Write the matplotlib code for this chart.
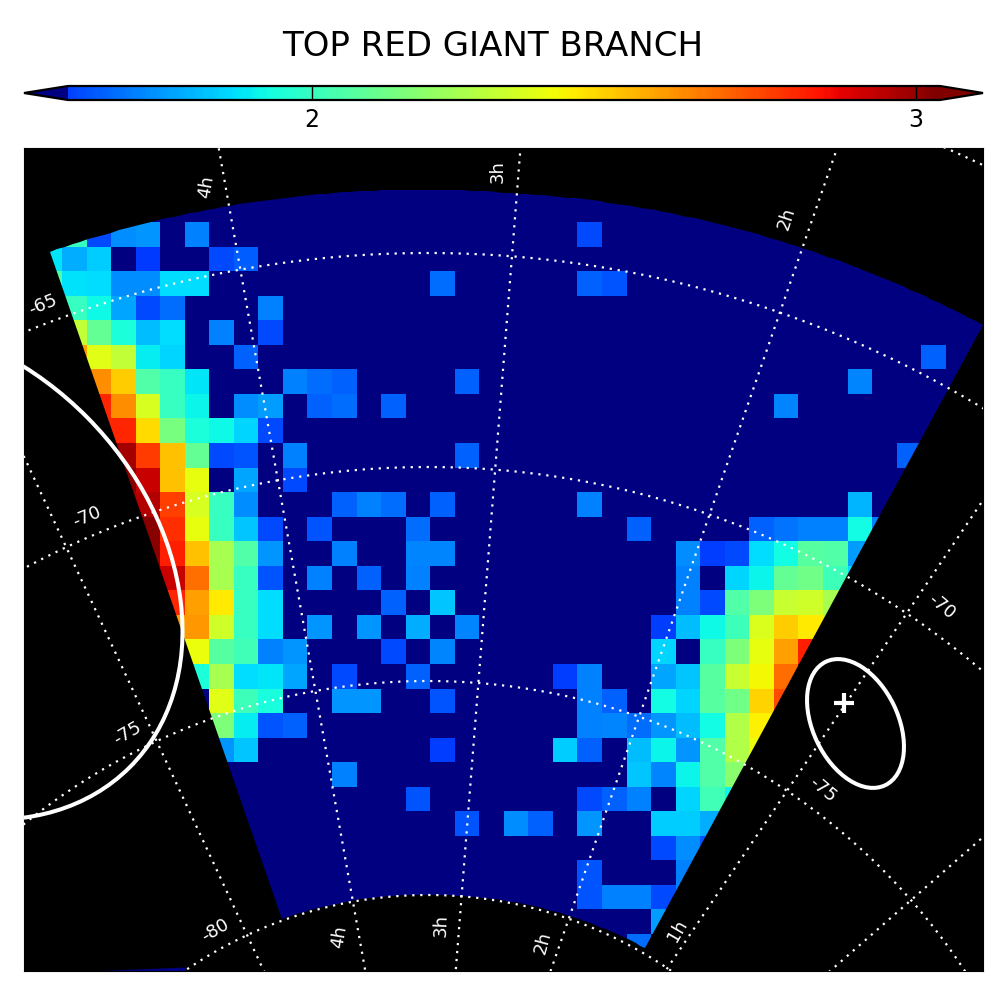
import numpy as np
import matplotlib
matplotlib.use("Agg")
from matplotlib import pyplot as plt
from matplotlib.cm import ScalarMappable
from matplotlib.colors import ListedColormap, Normalize
from matplotlib.patches import Ellipse, Polygon

# log10 star density per cell, one pair of lists per map row (top to bottom)
r00_cols = [1, 2, 3, 4, 6, 22]
r00_vals = [2.05, 1.68, 1.79, 1.80, 1.77, 1.68]
r01_cols = [0, 1, 2, 4, 7, 8]
r01_vals = [1.94, 1.85, 1.90, 1.65, 1.68, 1.71]
r02_cols = [0, 1, 2, 3, 4, 5, 6, 16, 22, 23]
r02_vals = [2.10, 1.93, 1.92, 1.79, 1.79, 1.92, 1.92, 1.74, 1.72, 1.70]
r03_cols = [1, 2, 3, 4, 5, 9]
r03_vals = [2.05, 1.97, 1.83, 1.68, 1.74, 1.77]
r04_cols = [1, 2, 3, 4, 5, 7, 9]
r04_vals = [2.33, 2.14, 2.00, 1.87, 1.92, 1.77, 1.68]
r05_cols = [1, 2, 3, 4, 5, 8, 36]
r05_vals = [2.60, 2.40, 2.33, 1.95, 1.91, 1.72, 1.72]
r06_cols = [2, 3, 4, 5, 6, 10, 11, 12, 17, 33]
r06_vals = [2.63, 2.52, 2.10, 2.05, 1.94, 1.77, 1.74, 1.72, 1.72, 1.78]
r07_cols = [2, 3, 4, 5, 6, 8, 9, 11, 12, 14, 30]
r07_vals = [2.82, 2.63, 2.38, 2.05, 1.96, 1.79, 1.82, 1.72, 1.74, 1.72, 1.78]
r08_cols = [2, 3, 4, 5, 6, 7, 8, 9]
r08_vals = [2.82, 2.82, 2.49, 2.18, 2.00, 1.97, 1.91, 1.68]
r09_cols = [3, 4, 5, 6, 7, 8, 10, 17, 35]
r09_vals = [2.98, 2.78, 2.54, 2.14, 1.68, 1.70, 1.77, 1.72, 1.72]
r10_cols = [3, 4, 5, 6, 8, 10]
r10_vals = [3.02, 2.93, 2.54, 2.41, 1.83, 1.68]
r11_cols = [3, 4, 5, 6, 7, 8, 12, 13, 14, 16, 22, 33]
r11_vals = [2.98, 2.96, 2.77, 2.38, 2.05, 1.79, 1.72, 1.77, 1.74, 1.72, 1.77, 1.86]
r12_cols = [4, 5, 6, 7, 8, 9, 11, 15, 24, 29, 30, 31, 32, 33, 34]
r12_vals = [3.02, 2.80, 2.41, 2.05, 1.88, 1.68, 1.70, 1.74, 1.72, 1.72, 1.75, 1.77, 1.77, 1.98, 1.77]
r13_cols = [4, 5, 6, 7, 8, 9, 12, 15, 16, 26, 27, 28, 29, 30, 31, 32, 33]
r13_vals = [3.02, 2.83, 2.54, 2.28, 2.10, 1.80, 1.77, 1.78, 1.78, 1.79, 1.66, 1.68, 1.92, 1.98, 2.12, 2.10, 1.82]
r14_cols = [4, 5, 6, 7, 8, 9, 11, 13, 15, 26, 28, 29, 30, 31, 32, 33]
r14_vals = [2.93, 2.93, 2.68, 2.28, 2.05, 1.70, 1.77, 1.72, 1.77, 1.77, 1.91, 1.96, 2.14, 2.17, 2.06, 1.92]
r15_cols = [5, 6, 7, 8, 9, 14, 16, 26, 27, 28, 29, 30, 31, 32]
r15_vals = [2.82, 2.60, 2.47, 2.05, 1.92, 1.72, 1.88, 1.77, 1.68, 2.10, 2.20, 2.35, 2.36, 2.28]
r16_cols = [5, 6, 7, 8, 9, 11, 13, 15, 17, 25, 26, 27, 28, 29, 30, 31, 32]
r16_vals = [2.60, 2.61, 2.36, 2.05, 1.92, 1.80, 1.80, 1.85, 1.78, 1.66, 1.87, 1.97, 2.06, 2.39, 2.52, 2.47, 2.32]
r17_cols = [5, 6, 7, 8, 9, 10, 14, 16, 25, 27, 28, 29, 30, 31]
r17_vals = [2.42, 2.42, 2.12, 2.07, 1.77, 1.80, 1.68, 1.78, 1.91, 2.05, 2.20, 2.41, 2.60, 2.83]
r18_cols = [6, 7, 8, 9, 10, 12, 15, 21, 22, 25, 26, 27, 28, 29, 30, 31]
r18_vals = [2.00, 2.28, 1.92, 1.94, 1.83, 1.68, 1.72, 1.66, 1.77, 1.83, 1.88, 2.12, 2.35, 2.44, 2.69, 3.02]
r19_cols = [7, 8, 9, 12, 13, 16, 22, 23, 25, 26, 27, 28, 29, 30]
r19_vals = [2.40, 2.06, 1.99, 1.80, 1.80, 1.70, 1.77, 1.72, 1.98, 1.91, 2.12, 2.17, 2.51, 2.75]
r20_cols = [7, 8, 9, 10, 22, 23, 24, 25, 26, 27, 28, 29]
r20_vals = [2.20, 1.95, 1.70, 1.72, 1.77, 1.78, 1.74, 1.80, 1.87, 1.98, 2.30, 2.45]
r21_cols = [7, 8, 16, 21, 22, 24, 25, 26, 27, 28, 29]
r21_vals = [1.80, 1.88, 1.66, 1.90, 1.72, 1.87, 1.96, 1.80, 2.10, 2.30, 2.42]
r22_cols = [12, 24, 25, 26, 27, 28]
r22_vals = [1.77, 1.88, 1.78, 1.96, 2.10, 2.22]
r23_cols = [15, 22, 23, 24, 26, 27, 28]
r23_vals = [1.70, 1.68, 1.72, 1.77, 1.91, 2.07, 1.96]
r24_cols = [17, 19, 20, 22, 25, 26, 27]
r24_vals = [1.70, 1.79, 1.72, 1.80, 1.90, 1.90, 1.85]
r25_cols = [25, 26, 27]
r25_vals = [1.68, 1.79, 1.70]
r26_cols = [22, 26]
r26_vals = [1.70, 1.77]
r27_cols = [22, 23, 24, 25, 26]
r27_vals = [1.70, 1.77, 1.77, 1.68, 1.78]
r28_cols = [25]
r28_vals = [1.82]
r29_cols = [24]
r29_vals = [1.74]

map_rows = [
    (r00_cols, r00_vals), (r01_cols, r01_vals), (r02_cols, r02_vals), (r03_cols, r03_vals),
    (r04_cols, r04_vals), (r05_cols, r05_vals), (r06_cols, r06_vals), (r07_cols, r07_vals),
    (r08_cols, r08_vals), (r09_cols, r09_vals), (r10_cols, r10_vals), (r11_cols, r11_vals),
    (r12_cols, r12_vals), (r13_cols, r13_vals), (r14_cols, r14_vals), (r15_cols, r15_vals),
    (r16_cols, r16_vals), (r17_cols, r17_vals), (r18_cols, r18_vals), (r19_cols, r19_vals),
    (r20_cols, r20_vals), (r21_cols, r21_vals), (r22_cols, r22_vals), (r23_cols, r23_vals),
    (r24_cols, r24_vals), (r25_cols, r25_vals), (r26_cols, r26_vals), (r27_cols, r27_vals),
    (r28_cols, r28_vals), (r29_cols, r29_vals),
]

# graticule, angles in degrees around the pole
ra_angles = [-25.0, -10.1, 4.5, 19.2, 34.0, 48.8]
dec_radii = [30, 25, 20, 15, 10]

label_text = ["4h", "3h", "2h", "-65", "-70", "-75", "-80", "4h", "3h", "2h", "1h", "-70", "-75"]
label_x = [206, 498, 786, 43, 87, 127, 215, 339, 441, 543, 677, 942, 823]
label_y = [187, 172, 219, 305, 517, 733, 930, 937, 925, 943, 931, 607, 790]
label_rot = [80, 90, 72, 22, 22, 30, 30, 80, 88, 75, 60, -40, -40]

PX = 42.8  # pixels per degree
POLE_X, POLE_Y = 428.0, 1323.0
CELL = 24.55 / PX
N_ROWS, N_COLS, ROWS_ABOVE = 34, 39, 3


def to_map(x, y):
    return (np.asarray(x, float) - POLE_X) / PX, (POLE_Y - np.asarray(y, float)) / PX


def polar(theta, r):
    t = np.radians(theta)
    return r * np.sin(t), r * np.cos(t)


def make_cmap(start):
    jet = matplotlib.colormaps["jet"]
    cm = ListedColormap(jet(np.linspace(start, 1.0, 256)))
    cm.set_under(jet(0.0))
    cm.set_over(jet(1.0))
    return cm


density = np.zeros((N_ROWS, N_COLS))
for i, (cols, vals) in enumerate(map_rows):
    density[i + ROWS_ABOVE, cols] = vals

cmap = make_cmap(0.15)
norm = Normalize(1.597, 3.04)

fig = plt.figure(figsize=(10.08, 10.08), dpi=100)
ax = fig.add_axes([24 / 1008, 37 / 1008, 959 / 1008, 823 / 1008], facecolor="black")
ax.set_xlim(*to_map([24, 983], [0, 0])[0])
ax.set_ylim(*to_map([0, 0], [971, 148])[1])
ax.set_xticks([])
ax.set_yticks([])
for s in ax.spines.values():
    s.set_linewidth(0.8)

x0, y0 = to_map(37.4, 148.4)
x_edges = x0 + CELL * np.arange(N_COLS + 1)
y_edges = y0 - CELL * np.arange(N_ROWS + 1)
mesh = ax.pcolormesh(x_edges, y_edges, density, cmap=cmap, norm=norm, antialiased=False, zorder=1)

# wedge of the survey footprint
top = np.linspace(-19.45, 29.1, 120)
top_r = np.interp(top, [-19.45, 4.0, 29.1], [26.54, 26.47, 26.68])
bottom = np.linspace(30.0, -19.85, 80)
bottom_r = np.interp(bottom, [-19.85, 4.0, 30.0], [10.04, 10.0, 10.12])
wedge = np.vstack([np.column_stack(polar(top, top_r)), np.column_stack(polar(bottom, bottom_r))])
wedge_patch = Polygon(wedge, closed=True, transform=ax.transData, fc="none", ec="none")
ax.add_patch(wedge_patch)
mesh.set_clip_path(wedge_patch)

# thin sliver of the map at the bottom edge
sx, sy = to_map([100, 186, 186], [971, 967.5, 971])
ax.fill(sx, sy, color=matplotlib.colormaps["jet"](0.0), lw=0, zorder=1)

dots = dict(color="white", lw=1.6, ls=(0, (1, 2.6)), zorder=3)
for a in ra_angles:
    ax.plot(*polar(a, np.array([0, 45])), **dots)
for r in dec_radii:
    ax.plot(*polar(np.linspace(-60, 70, 300), r), **dots)

ax.add_patch(Ellipse((-11.557, 17.597), 13.011, 10.121, angle=-45.26, fc="none", ec="white", lw=2.9, zorder=4))

smc_x, smc_y = to_map(855.5, 723.5)
ax.add_patch(Ellipse((smc_x, smc_y), 137 / PX, 85 / PX, angle=-64.3, fc="none", ec="white", lw=2.9, zorder=4))
px, py = to_map(844.3, 703.3)
ax.plot(px, py, marker="+", ms=15, mew=3, color="white", zorder=4)

for t, x, y, rot in zip(label_text, label_x, label_y, label_rot):
    fig.text(x / 1008, 1 - y / 1008, t, color="white", fontsize=13, rotation=rot,
             ha="center", va="center", rotation_mode="anchor", zorder=5)

cax = fig.add_axes([24 / 1008, 1 - 100 / 1008, 959 / 1008, 14 / 1008])
cb = fig.colorbar(ScalarMappable(norm=norm, cmap=make_cmap(0.19)), cax=cax, orientation="horizontal",
                  extend="both", extendfrac=[0.0505, 0.0493], ticks=[2, 3])
cb.ax.set_xticklabels(["2", "3"])
cb.ax.tick_params(direction="in", length=10, width=1, labelsize=17, pad=6)
cb.outline.set_linewidth(1.6)

fig.text(493 / 1008, 1 - 47 / 1008, "TOP RED GIANT BRANCH", fontsize=24.5, ha="center", va="center")

fig.savefig("out.png", dpi=100)
